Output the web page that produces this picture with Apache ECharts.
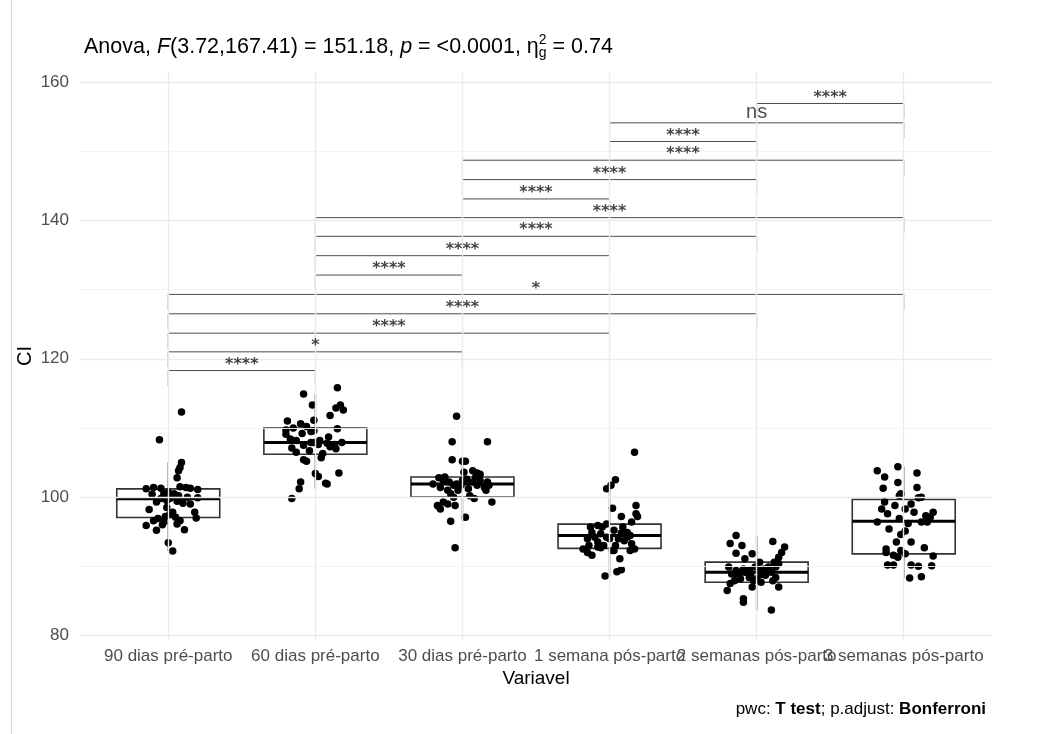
<!DOCTYPE html>
<html>
<head>
<meta charset="utf-8">
<script src="https://cdn.jsdelivr.net/npm/echarts@6/dist/echarts.min.js"></script>
<style>
  html, body { margin: 0; padding: 0; background: #fff; }
  #main { width: 1052px; height: 734px; }
</style>
</head>
<body>
<div id="main"></div>
<script>
var categories = ['90 dias pré-parto', '60 dias pré-parto', '30 dias pré-parto',
  '1 semana pós-parto', '2 semanas pós-parto', '3 semanas pós-parto'];
var yTicks = [80, 100, 120, 140, 160];
var yMinorTicks = [90, 110, 130, 150];

// [lower whisker, Q1, median, Q3, upper whisker]
var boxStats = [
  [92.2, 97.05, 99.75, 101.2, 105.0],
  [101.2, 106.2, 107.9, 110.0, 114.9],
  [96.5, 100.0, 101.9, 102.9, 105.4],
  [88.6, 92.6, 94.45, 96.1, 101.2],
  [83.7, 87.7, 89.15, 90.6, 94.45],
  [88.3, 91.8, 96.5, 99.65, 104.4]
];

// jittered points: [jitter, CI]
var pts90 = [[0.09,112.3],[-0.06,108.3],[0.09,105.0],[0.08,104.3],[0.07,103.8],[0.06,102.8],[-0.15,101.2],[-0.10,101.4],[-0.05,101.3],[0.08,101.5],[0.12,101.4],[0.15,101.3],[0.20,101.1],[-0.03,100.5],[0.00,100.7],[0.04,100.5],[0.07,100.2],[0.13,100.0],[-0.05,99.8],[-0.01,99.5],[0.01,99.8],[0.06,99.4],[0.20,99.9],[-0.08,99.3],[0.10,99.1],[-0.13,98.2],[-0.01,98.5],[0.03,97.8],[0.18,97.8],[-0.07,96.9],[-0.03,96.4],[0.05,97.1],[0.08,96.6],[0.19,97.0],[-0.10,96.6],[0.01,97.5],[-0.15,95.9],[-0.08,95.2],[0.06,96.1],[0.11,95.3],[-0.04,96.0],[0.00,93.4],[0.03,92.2],[-0.11,100.4],[0.15,99.0],[-0.02,97.2]];
var pts60 = [[0.15,115.8],[-0.08,114.9],[-0.02,113.3],[0.17,113.3],[0.19,112.6],[0.14,112.9],[0.10,111.8],[-0.01,111.1],[-0.19,111.0],[0.15,109.9],[-0.20,109.7],[-0.15,110.0],[-0.10,110.6],[-0.06,110.2],[-0.03,109.5],[-0.09,109.2],[-0.17,108.4],[-0.13,108.2],[-0.01,107.9],[0.03,108.2],[0.08,107.8],[0.13,107.6],[0.18,107.9],[-0.16,107.1],[-0.08,107.5],[0.02,107.6],[0.10,107.3],[-0.03,107.9],[-0.13,106.5],[-0.04,106.7],[0.05,106.3],[0.04,105.7],[-0.08,105.4],[-0.06,105.2],[0.14,107.0],[0.00,103.4],[0.02,103.0],[0.16,103.5],[0.07,102.0],[0.08,101.9],[-0.10,102.2],[-0.11,101.2],[-0.16,99.8],[-0.01,109.6],[0.09,108.7],[-0.20,109.1]];
var pts30 = [[-0.04,111.7],[-0.07,108.0],[0.17,108.0],[-0.07,105.4],[0.00,105.2],[0.02,105.2],[0.01,103.6],[0.10,103.5],[0.12,103.3],[-0.16,102.8],[-0.12,102.9],[-0.09,102.2],[-0.04,101.9],[0.00,102.4],[0.03,102.6],[0.07,102.2],[0.17,102.2],[0.15,101.4],[-0.15,101.4],[-0.06,101.7],[0.10,101.7],[0.18,101.7],[-0.08,100.5],[-0.06,100.0],[0.05,100.2],[0.08,99.8],[-0.13,99.3],[-0.17,98.8],[-0.15,98.3],[-0.05,98.8],[0.20,99.3],[-0.10,99.0],[0.02,97.1],[-0.08,96.5],[-0.05,92.7],[-0.13,102.4],[-0.01,101.7],[0.12,102.4],[-0.20,101.9],[0.04,101.2],[-0.03,101.0],[0.09,102.9],[0.16,101.0],[-0.10,101.0],[-0.16,98.6],[0.07,103.8]];
var pts1s = [[0.17,106.5],[0.04,102.5],[0.01,101.7],[-0.02,101.2],[0.18,98.8],[0.02,98.4],[0.08,97.2],[0.18,97.6],[0.19,97.2],[-0.08,95.9],[-0.02,96.1],[0.15,96.4],[-0.12,94.9],[-0.06,94.7],[0.03,95.2],[0.08,94.8],[0.12,94.9],[0.14,94.45],[-0.15,94.0],[-0.10,94.2],[-0.02,94.2],[0.06,94.0],[0.10,93.7],[0.15,93.25],[0.17,92.5],[-0.14,93.0],[-0.08,92.8],[-0.04,93.0],[0.04,93.0],[-0.18,92.5],[-0.15,92.0],[-0.12,91.6],[-0.06,92.7],[0.02,92.3],[0.14,92.3],[0.07,91.1],[0.08,89.5],[0.05,89.2],[-0.03,88.6],[-0.05,95.7],[0.00,94.0],[0.12,94.2],[-0.08,93.5],[0.03,92.3],[-0.13,95.7],[0.09,95.7]];
var pts2s = [[-0.14,94.45],[-0.18,93.3],[-0.10,93.0],[0.11,93.6],[0.19,92.8],[0.17,92.0],[0.15,91.3],[-0.14,91.9],[-0.08,91.1],[-0.03,91.8],[-0.19,89.9],[-0.14,89.4],[-0.11,89.15],[-0.09,89.6],[-0.05,89.5],[-0.01,89.9],[0.02,89.4],[0.05,89.6],[0.10,89.15],[0.13,89.9],[0.15,90.4],[-0.15,87.9],[-0.11,88.2],[-0.05,88.4],[0.00,88.2],[0.06,88.7],[0.11,87.9],[-0.18,87.5],[-0.14,88.9],[-0.08,89.15],[0.03,88.8],[0.13,88.4],[0.08,89.9],[-0.20,86.5],[-0.03,87.0],[0.15,87.0],[-0.09,85.3],[-0.09,84.8],[0.10,83.7],[-0.04,88.9],[0.07,89.4],[-0.02,87.9],[0.03,87.7],[-0.17,88.9],[0.12,90.6],[0.02,90.6]];
var pts3s = [[-0.18,103.8],[-0.04,104.4],[0.09,103.5],[-0.13,102.9],[-0.04,102.1],[-0.14,101.3],[0.09,101.4],[-0.02,100.5],[-0.03,100.2],[0.10,99.9],[0.12,100.0],[-0.13,99.3],[-0.15,98.3],[0.05,99.0],[0.01,98.3],[-0.11,97.6],[0.07,97.8],[0.20,97.8],[0.18,97.1],[-0.18,96.4],[-0.03,96.9],[0.12,96.4],[0.16,96.4],[0.01,95.1],[-0.02,94.6],[-0.05,93.5],[0.05,93.5],[-0.12,92.5],[-0.12,92.0],[-0.02,92.3],[0.01,91.8],[-0.04,91.3],[-0.07,91.6],[0.20,91.5],[-0.11,90.2],[-0.07,90.2],[0.05,90.2],[0.10,90.0],[0.19,90.1],[0.04,88.3],[0.12,88.5],[0.15,97.3],[-0.10,95.4],[0.03,96.2],[0.14,92.7],[-0.06,98.8]];
var pointGroups = [pts90, pts60, pts30, pts1s, pts2s, pts3s];

// pairwise comparisons
var bracketPairs = [[1,2],[1,3],[1,4],[1,5],[1,6],[2,3],[2,4],[2,5],[2,6],[3,4],[3,5],[3,6],[4,5],[4,6],[5,6]];
var bracketY = [118.3, 121.0, 123.7, 126.5, 129.3, 132.1, 134.9, 137.7, 140.4, 143.1, 145.9, 148.7, 151.4, 154.1, 156.9];
var bracketLabels = ['****','*','****','****','*','****','****','****','****','****','****','****','****','ns','****'];
var tipLength = 2.2;

var FONT = '"Liberation Sans", Arial, sans-serif';
var chartDom = document.getElementById('main');
var myChart = echarts.init(chartDom);

var positions = categories.map(function (c, i) { return i + 1; });
var oddPositions = positions.filter(function (p) { return p % 2 === 1; });
var evenPositions = positions.filter(function (p) { return p % 2 === 0; });

var gridLines = [];
yTicks.forEach(function (v) {
  gridLines.push({ yAxis: v, lineStyle: { color: '#ebebeb', width: 1.4, type: 'solid' } });
});
yMinorTicks.forEach(function (v) {
  gridLines.push({ yAxis: v, lineStyle: { color: '#f3f3f3', width: 0.9, type: 'solid' } });
});
positions.forEach(function (v) {
  gridLines.push({ xAxis: v, lineStyle: { color: '#ebebeb', width: 1.4, type: 'solid' } });
});

var pointData = [];
pointGroups.forEach(function (g, i) {
  g.forEach(function (p) { pointData.push([positions[i] + p[0], p[1]]); });
});

var boxData = boxStats.map(function (s, i) { return [positions[i]].concat(s); });

function renderBox(params, api) {
  var x = api.value(0);
  var lo = api.coord([x, api.value(1)]);
  var q1 = api.coord([x, api.value(2)]);
  var md = api.coord([x, api.value(3)]);
  var q3 = api.coord([x, api.value(4)]);
  var hi = api.coord([x, api.value(5)]);
  var hw = api.size([0.35, 0])[0];
  return {
    type: 'group',
    children: [
      { type: 'line', shape: { x1: lo[0], y1: lo[1], x2: q1[0], y2: q1[1] }, style: { stroke: '#555', lineWidth: 1.5 } },
      { type: 'line', shape: { x1: q3[0], y1: q3[1], x2: hi[0], y2: hi[1] }, style: { stroke: '#555', lineWidth: 1.5 } },
      { type: 'rect', shape: { x: q3[0] - hw, y: q3[1], width: hw * 2, height: q1[1] - q3[1] }, style: { fill: '#fff', stroke: '#333', lineWidth: 1.6 } },
      { type: 'line', shape: { x1: md[0] - hw, y1: md[1], x2: md[0] + hw, y2: md[1] }, style: { stroke: '#000', lineWidth: 3 } }
    ]
  };
}

var series = [
  {
    type: 'line', data: [], silent: true, z: 0,
    markLine: { silent: true, symbol: 'none', label: { show: false }, animation: false, data: gridLines }
  },
  {
    type: 'custom', renderItem: renderBox, data: boxData, z: 2,
    encode: { x: 0, y: [1, 2, 3, 4, 5] }, silent: true
  },
  {
    type: 'scatter', data: pointData, symbolSize: 7.5, z: 3, silent: true,
    itemStyle: { color: '#000', opacity: 1 }
  }
];

bracketPairs.forEach(function (pr, i) {
  var a = positions[pr[0] - 1], b = positions[pr[1] - 1], y = bracketY[i];
  series.push({
    type: 'line', silent: true, symbol: 'none', z: 4,
    lineStyle: { color: '#4d4d4d', width: 1 },
    data: [[a, y - tipLength], [a, y], [b, y], [b, y - tipLength]]
  });
});

series.push({
  type: 'scatter', silent: true, symbolSize: 1, z: 5,
  itemStyle: { color: 'rgba(0,0,0,0)' },
  data: bracketPairs.map(function (pr, i) {
    var mid = (positions[pr[0] - 1] + positions[pr[1] - 1]) / 2;
    var isNs = bracketLabels[i] === 'ns';
    return {
      value: [mid, bracketY[i], bracketLabels[i]],
      label: isNs
        ? { fontSize: 20, offset: [0, -10], fontFamily: FONT, color: '#222' }
        : { fontSize: 16, fontWeight: 'bold', offset: [0, -6], fontFamily: '"DejaVu Sans", sans-serif', color: '#111' }
    };
  }),
  label: {
    show: true, position: 'inside',
    formatter: function (p) { return p.value[2]; }
  }
});

function xAxisFor(values, withName) {
  return {
    type: 'value', min: 0.4, max: 6.6, position: 'bottom', offset: 0,
    name: withName ? 'Variavel' : '', nameLocation: 'middle', nameGap: 29, nameMoveOverlap: false,
    nameTextStyle: { fontSize: 19, color: '#000', fontFamily: FONT },
    axisLine: { show: false }, axisTick: { show: false }, splitLine: { show: false },
    axisLabel: {
      customValues: values, margin: 8, fontSize: 17, color: '#4d4d4d', fontFamily: FONT,
      showMinLabel: true, showMaxLabel: true, hideOverlap: false,
      formatter: function (v) { return categories[Math.round(v) - 1]; }
    }
  };
}

var option = {
  animation: false,
  backgroundColor: '#fff',
  textStyle: { fontFamily: FONT },
  title: [
    {
      left: 79, top: 28,
      text: '{t|Anova, }{i|F}{t|(3.72,167.41) = 151.18, }{i|p}{t| = <0.0001, η}{sup|2}{sub|g}{t| = 0.74}',
      textStyle: {
        fontWeight: 'normal',
        rich: {
          t: { fontSize: 21.5, color: '#000', fontWeight: 'normal', fontFamily: FONT },
          i: { fontSize: 21.5, color: '#000', fontWeight: 'normal', fontStyle: 'italic', fontFamily: FONT },
          sup: { fontSize: 14, color: '#000', fontWeight: 'normal', width: 0, padding: [0, 0, 14, 0], fontFamily: FONT },
          sub: { fontSize: 14, color: '#000', fontWeight: 'normal', padding: [12, 0, 0, 0], fontFamily: FONT }
        }
      }
    },
    {
      right: 61, top: 696,
      text: '{n|pwc: }{b|T test}{n|; p.adjust: }{b|Bonferroni}',
      textStyle: {
        fontWeight: 'normal',
        rich: {
          n: { fontSize: 17, color: '#000', fontWeight: 'normal', fontFamily: FONT },
          b: { fontSize: 17, color: '#000', fontWeight: 'bold', fontFamily: FONT }
        }
      }
    }
  ],
  grid: { left: 80, right: 60, top: 72, bottom: 94, containLabel: false, outerBoundsMode: 'none' },
  xAxis: [xAxisFor(oddPositions, true), xAxisFor(evenPositions, false)],
  yAxis: {
    type: 'value', min: 79.35, max: 161.45,
    name: 'CI', nameLocation: 'middle', nameGap: 45, nameRotate: 90, nameMoveOverlap: false,
    nameTextStyle: { fontSize: 20, color: '#000', fontFamily: FONT },
    axisLine: { show: false }, axisTick: { show: false }, splitLine: { show: false },
    axisLabel: { customValues: yTicks, margin: 11, fontSize: 17, color: '#4d4d4d', fontFamily: FONT }
  },
  graphic: [
    { type: 'line', shape: { x1: 11.5, y1: 0, x2: 11.5, y2: 734 }, style: { stroke: '#d6d6d6', lineWidth: 1 } }
  ],
  series: series
};

option && myChart.setOption(option);
</script>
</body>
</html>
